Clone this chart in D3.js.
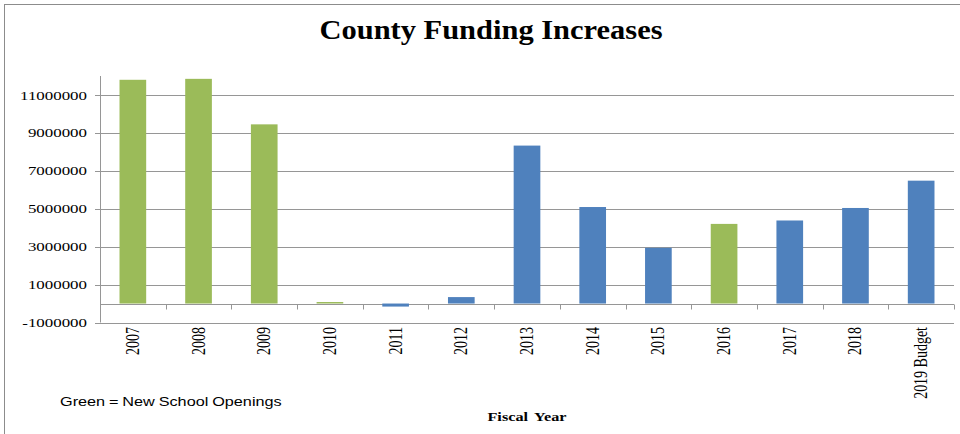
<!DOCTYPE html>
<html>
<head>
<meta charset="utf-8">
<script src="https://cdn.jsdelivr.net/npm/d3@7"></script>
<style>
  html, body { margin: 0; padding: 0; background: #fff; }
  svg { display: block; }
</style>
</head>
<body>
<div id="chart"></div>
<script>
const WIDTH = 960;
const HEIGHT = 434;
// the source picture is stretched sideways, so text gets the same stretch
const SX = 1.3;

const years = ["2007", "2008", "2009", "2010", "2011", "2012", "2013", "2014",
  "2015", "2016", "2017", "2018", "2019 Budget"];
const increases = [11800000, 11850000, 9450000, 80000, -160000, 340000,
  8330000, 5090000, 2940000, 4200000, 4380000, 5040000, 6480000];
const newSchoolYears = ["2007", "2008", "2009", "2010", "2016"];
const yTicks = [-1000000, 1000000, 3000000, 5000000, 7000000, 9000000, 11000000];

const GREEN = "#9bbb59";
const BLUE = "#4f81bd";
const GRID = "#969696";
const SERIF = "'Liberation Serif', 'Times New Roman', serif";

const plot = { left: 100, right: 954, top: 76, bottom: 322.5 };

const svg = d3.select("#chart")
  .append("svg")
  .attr("width", WIDTH)
  .attr("height", HEIGHT);

// chart frame
svg.append("rect")
  .attr("x", 4.5).attr("y", 4.5)
  .attr("width", WIDTH + 20).attr("height", HEIGHT + 20)
  .attr("fill", "none")
  .attr("stroke", "#8c8c8c");

const xCat = d3.scaleBand()
  .domain(years)
  .range([plot.left, plot.right])
  .padding(0);

const y = d3.scaleLinear()
  .domain([-1000000, 12000000])
  .range([plot.bottom, plot.top]);

const barRatio = 0.406;

// gridlines (the -1M one is the bottom edge)
svg.append("g")
  .selectAll("line")
  .data(yTicks)
  .join("line")
  .attr("x1", plot.left - 5)
  .attr("x2", plot.right)
  .attr("y1", (d) => Math.round(y(d)) + 0.5)
  .attr("y2", (d) => Math.round(y(d)) + 0.5)
  .attr("stroke", GRID);

// y axis line
svg.append("line")
  .attr("x1", plot.left + 0.5).attr("x2", plot.left + 0.5)
  .attr("y1", plot.top).attr("y2", plot.bottom)
  .attr("stroke", GRID);

// y tick labels (plain hyphen for the minus, like the source)
svg.append("g")
  .selectAll("text")
  .data(yTicks)
  .join("text")
  .attr("transform", (d) => `translate(87,${y(d)}) scale(${SX},1)`)
  .attr("dy", "0.35em")
  .attr("text-anchor", "end")
  .style("font-family", SERIF)
  .style("font-size", "13px")
  .style("fill", "#000")
  .text((d) => String(d));

// category axis at zero with ticks between categories
const zeroY = Math.round(y(0)) + 0.5;
svg.append("line")
  .attr("x1", plot.left).attr("x2", plot.right)
  .attr("y1", zeroY).attr("y2", zeroY)
  .attr("stroke", GRID);

svg.append("g")
  .selectAll("line")
  .data(years.map((d) => xCat(d)).concat([plot.right]))
  .join("line")
  .attr("x1", (d) => Math.round(d) + 0.5)
  .attr("x2", (d) => Math.round(d) + 0.5)
  .attr("y1", zeroY)
  .attr("y2", zeroY + 5)
  .attr("stroke", GRID);

// bars
svg.append("g")
  .selectAll("rect")
  .data(years)
  .join("rect")
  .attr("x", (d) => xCat(d) + (xCat.bandwidth() * (1 - barRatio)) / 2)
  .attr("width", xCat.bandwidth() * barRatio)
  .attr("y", (d, i) => y(Math.max(0, increases[i])))
  .attr("height", (d, i) => Math.abs(y(increases[i]) - y(0)))
  .attr("fill", (d) => (newSchoolYears.includes(d) ? GREEN : BLUE));

// rotated category labels below the plot
svg.append("g")
  .selectAll("text")
  .data(years)
  .join("text")
  .attr("transform", (d) =>
    `translate(${xCat(d) + xCat.bandwidth() / 2},327) scale(${SX},1) rotate(-90)`)
  .attr("dy", "0.33em")
  .attr("text-anchor", "end")
  .style("font-family", SERIF)
  .style("font-size", "14px")
  .style("fill", "#000")
  .text((d) => d);

// title
svg.append("text")
  .attr("transform", "translate(491,39) scale(1.15,1)")
  .attr("text-anchor", "middle")
  .style("font-family", SERIF)
  .style("font-weight", "700")
  .style("font-size", "26.5px")
  .text("County Funding Increases");

// axis title
svg.append("text")
  .attr("transform", `translate(${(plot.left + plot.right) / 2},421) scale(${SX},1)`)
  .attr("text-anchor", "middle")
  .style("font-family", SERIF)
  .style("font-weight", "700")
  .style("font-size", "12.5px")
  .style("word-spacing", "2px")
  .text("Fiscal Year");

// note
svg.append("text")
  .attr("transform", `translate(60,405.5) scale(${SX},1)`)
  .style("font-family", "'Liberation Sans', Arial, sans-serif")
  .style("font-size", "12.5px")
  .style("word-spacing", "-0.5px")
  .style("fill", "#000")
  .text("Green = New School Openings");
</script>
</body>
</html>
